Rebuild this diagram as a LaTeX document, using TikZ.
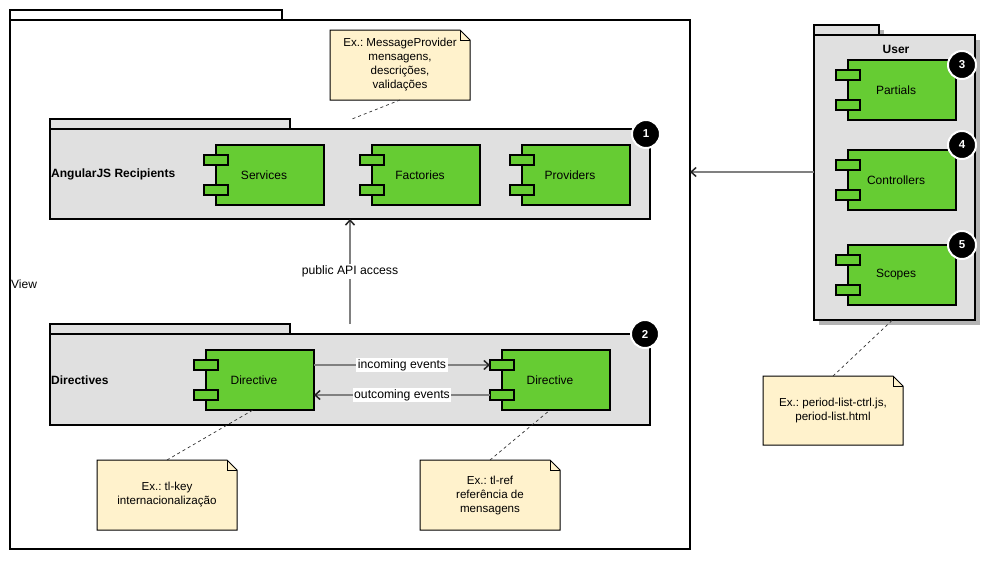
\documentclass[tikz,border=0pt]{standalone}
\usepackage{fontspec}
\setmainfont{Liberation Sans}
\usetikzlibrary{arrows.meta,calc}
\definecolor{compgreen}{RGB}{102,204,51}
\definecolor{pkggray}{RGB}{224,224,224}
\definecolor{notefill}{RGB}{255,242,204}
\definecolor{linkgray}{RGB}{128,128,128}
\definecolor{shadowgray}{RGB}{179,179,179}
\frenchspacing
\tikzset{
  pkgtab/.style={draw=black,line width=2pt,fill=pkggray},
  pkgbody/.style={draw=black,line width=2pt,fill=pkggray,inner sep=0pt,outer sep=0pt,anchor=north west},
  comp/.style={draw=black,line width=2pt,fill=compgreen,minimum width=108pt,minimum height=60pt,inner sep=0pt,outer sep=0pt},
  port/.style={draw=black,line width=2pt,fill=compgreen,minimum width=24pt,minimum height=10pt,inner sep=0pt,outer sep=0pt},
  badge/.style={circle,fill=black,draw=white,line width=2pt,minimum size=28pt,inner sep=0pt,text=white,font=\fontsize{11.5}{13}\selectfont\bfseries},
  notebox/.style={minimum width=140pt,minimum height=70pt,inner sep=0pt,outer sep=0pt,align=center},
  notedraw/.style={draw=black,line width=1pt,fill=notefill},
  notetext/.style={align=center,inner sep=0pt,font=\fontsize{11.6}{14}\selectfont},
  link/.style={draw=linkgray,line width=1.5pt,-{Straight Barb[length=5pt,width=9pt,color=black!85,line width=1.5pt]}},
  anno/.style={draw=black!80,dash pattern=on 3pt off 3pt,line width=0.7pt},
  lbl/.style={fill=white,inner sep=1.5pt,font=\fontsize{12.2}{14}\selectfont},
  pkglabel/.style={inner sep=0pt,font=\fontsize{12}{14}\selectfont\bfseries},
  comptext/.style={inner sep=0pt,font=\fontsize{12}{14}\selectfont},
  component/.pic={
    \node[comp] (-body) at (0,0) {};
    \node[port] (-p1) at (-54,-15) {};
    \node[port] (-p2) at (-54,15) {};
    \node[comptext] (-text) at (-6,0) {#1};
  }
}
\newcommand{\notefold}[1]{%
  \draw[notedraw] (#1.north west) -- ($(#1.north east)+(-10,0)$) -- ($(#1.north east)+(0,10)$) -- (#1.south east) -- (#1.south west) -- cycle;
  \draw[black,line width=1pt] ($(#1.north east)+(-10,0)$) -- ($(#1.north east)+(-10,10)$) -- ($(#1.north east)+(0,10)$);
}
\begin{document}
\begin{tikzpicture}[x=1pt,y=-1pt,font=\fontsize{12}{14}\selectfont]
\useasboundingbox[fill=white] (0,0) rectangle (1003,570);

% View package
\draw[pkgtab,fill=white] (10,10) rectangle (282,20);
\node[pkgbody,fill=white,minimum width=680pt,minimum height=529pt] (view) at (10,20) {};
\node[anchor=west,inner sep=0pt] (viewlbl) at (11,284) {View};

% AngularJS Recipients package
\draw[pkgtab] (50,119) rectangle (290,129);
\node[pkgbody,minimum width=600pt,minimum height=90pt] (ang) at (50,129) {};
\node[pkglabel,anchor=west] (anglbl) at (51,174) {AngularJS Recipients};
\pic (svc) at (270,175) {component=Services};
\pic (fac) at (426,175) {component=Factories};
\pic (prov) at (576,175) {component=Providers};
\node[badge] (b1) at (646,134) {1};

% Directives package
\draw[pkgtab] (50,324) rectangle (290,334);
\node[pkgbody,minimum width=600pt,minimum height=91pt] (dir) at (50,334) {};
\node[pkglabel,anchor=west] (dirlbl) at (51,380) {Directives};
\pic (d1) at (260,380) {component=Directive};
\pic (d2) at (556,380) {component=Directive};
\node[badge] (b2) at (645,334) {2};

% User package (with shadow)
\fill[shadowgray] (819,30) rectangle (884,40);
\fill[shadowgray] (819,40) rectangle (980,325);
\draw[pkgtab] (814,25) rectangle (879,35);
\node[pkgbody,minimum width=161pt,minimum height=285pt] (user) at (814,35) {};
\node[pkglabel] (userlbl) at (896,49) {User};
\pic (part) at (902,90) {component=Partials};
\pic (ctrl) at (902,180) {component=Controllers};
\pic (scop) at (902,275) {component=Scopes};
\node[badge] (b3) at (962,65) {3};
\node[badge] (b4) at (962,145) {4};
\node[badge] (b5) at (962,245) {5};

% Notes
\node[notebox] (n1) at (400,65) {};
\notefold{n1}
\node[notetext] at (n1) {Ex.: MessageProvider\\mensagens,\\descrições,\\validações};
\node[notebox] (n2) at (167,495) {};
\notefold{n2}
\node[notetext] at (n2) {Ex.: tl-key\\internacionalização};
\node[notebox] (n3) at (490,495) {};
\notefold{n3}
\node[notetext] at (n3) {Ex.: tl-ref\\referência de\\mensagens};
\node[notebox,minimum height=69pt] (n4) at (833,410.5) {};
\notefold{n4}
\node[notetext] at (n4) {Ex.: period-list-ctrl.js,\\period-list.html};

% Annotation links
\coordinate (n1end) at (352,119);
\draw[anno] (n1.south) -- (n1end);
\draw[anno] (n2.north) -- ($(d1-body.south)+(-7,0)$);
\draw[anno] (n3.north) -- ($(d2-body.south)+(-6,0)$);
\draw[anno] (n4.north) -- ($(user.south)+(-2,0)$);

% Links
\draw[link] ($(dir.north)+(0,-10)$) -- node[lbl] {public API access} (ang.south);
\coordinate (uy) at (0,172);
\draw[link] (user.west |- uy) -- (view.east |- uy);
\draw[link] (d1-body.east |- d2-p1.west) -- node[lbl] {incoming events} (d2-p1.west);
\draw[link] (d2-p2.west) -- node[lbl] {outcoming events} (d1-body.east |- d2-p2.west);
\end{tikzpicture}
\end{document}
